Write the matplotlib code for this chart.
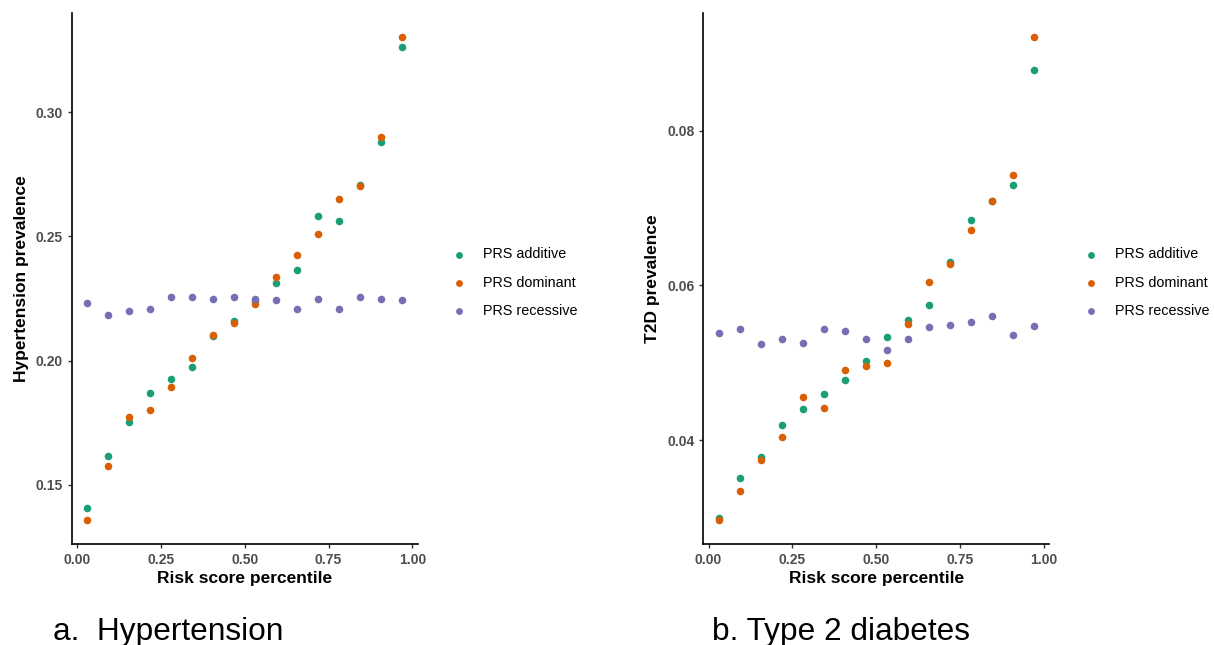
import numpy as np
import matplotlib
matplotlib.use("Agg")
import matplotlib.pyplot as plt

plt.rcParams['font.family'] = ['Liberation Sans', 'DejaVu Sans']

# risk score percentile bins (16 bins, midpoints)
percentile = [0.03125, 0.09375, 0.15625, 0.21875, 0.28125, 0.34375, 0.40625, 0.46875,
              0.53125, 0.59375, 0.65625, 0.71875, 0.78125, 0.84375, 0.90625, 0.96875]

series_names = ["PRS additive", "PRS dominant", "PRS recessive"]
series_colors = ["#1B9E77", "#D95F02", "#7570B3"]

# Hypertension prevalence
hyp_additive = [0.1407, 0.1616, 0.1752, 0.1868, 0.1927, 0.1976, 0.2099, 0.2161,
                0.2240, 0.2314, 0.2365, 0.2580, 0.2563, 0.2707, 0.2878, 0.3264]
hyp_dominant = [0.1359, 0.1576, 0.1774, 0.1803, 0.1894, 0.2010, 0.2101, 0.2151,
                0.2228, 0.2336, 0.2425, 0.2510, 0.2650, 0.2704, 0.2900, 0.3303]
hyp_recessive = [0.2233, 0.2184, 0.2200, 0.2207, 0.2254, 0.2254, 0.2246, 0.2257,
                 0.2246, 0.2243, 0.2208, 0.2247, 0.2208, 0.2256, 0.2246, 0.2243]

# Type 2 diabetes prevalence
t2d_additive = [0.0299, 0.0351, 0.0378, 0.0419, 0.0440, 0.0459, 0.0478, 0.0502,
                0.0533, 0.0555, 0.0575, 0.0630, 0.0684, 0.0709, 0.0729, 0.0878]
t2d_dominant = [0.0297, 0.0334, 0.0374, 0.0404, 0.0456, 0.0441, 0.0491, 0.0496,
                0.0500, 0.0550, 0.0604, 0.0627, 0.0672, 0.0709, 0.0742, 0.0921]
t2d_recessive = [0.0539, 0.0544, 0.0524, 0.0530, 0.0525, 0.0544, 0.0541, 0.0531,
                 0.0517, 0.0530, 0.0546, 0.0549, 0.0553, 0.0560, 0.0536, 0.0548]

hyp_ticks = [0.15, 0.20, 0.25, 0.30]
t2d_ticks = [0.04, 0.06, 0.08]

W, H = 1214, 645
fig = plt.figure(figsize=(W / 100, H / 100), dpi=100)


def expand(vals, frac=0.05):
    lo, hi = min(vals), max(vals)
    pad = (hi - lo) * frac
    return lo - pad, hi + pad


def draw_panel(left_px, series, yticks, ylabel, legend_x_px, caption, caption_x_px):
    ax = fig.add_axes([left_px / W, 1 - 544 / H, 346 / W, (544 - 12.7) / H])
    for vals, name, col in zip(series, series_names, series_colors):
        ax.scatter(percentile, vals, s=30, color=col, label=name,
                   linewidths=0, zorder=3)
    ax.set_xlim(expand(percentile))
    ax.set_ylim(expand([v for s in series for v in s]))
    ax.set_xticks([0, 0.25, 0.5, 0.75, 1.0])
    ax.set_xticklabels(["0.00", "0.25", "0.50", "0.75", "1.00"])
    ax.set_yticks(yticks)
    ax.set_yticklabels([f"{t:.2f}" for t in yticks])
    for side in ["top", "right"]:
        ax.spines[side].set_visible(False)
    for side in ["left", "bottom"]:
        ax.spines[side].set_linewidth(1.2)
        ax.spines[side].set_color("black")
    ax.tick_params(length=3, width=1, color="#333333", pad=3.5,
                   labelsize=10, labelcolor="#4D4D4D")
    for lab in ax.get_xticklabels() + ax.get_yticklabels():
        lab.set_fontweight("bold")
    ax.set_xlabel("Risk score percentile", fontsize=12.5, fontweight="bold", labelpad=3)
    ax.set_ylabel(ylabel, fontsize=12.5, fontweight="bold", va="center")
    ax.yaxis.set_label_coords(-0.1455, 0.5)

    ax.legend(loc="center left", bbox_to_anchor=(legend_x_px / W, 1 - 282.7 / H),
              bbox_transform=fig.transFigure, frameon=False, fontsize=10.4,
              handlelength=1.0, handletextpad=1.18, labelspacing=0.99,
              borderpad=0, borderaxespad=0, markerscale=0.9)

    fig.text(caption_x_px / W, 1 - 640 / H, caption, fontsize=22.8,
             ha="left", va="baseline")
    return ax


draw_panel(71.7, [hyp_additive, hyp_dominant, hyp_recessive], hyp_ticks,
           "Hypertension prevalence", 451.8, "a.  Hypertension", 53)
draw_panel(703.3, [t2d_additive, t2d_dominant, t2d_recessive], t2d_ticks,
           "T2D prevalence", 1083.5, "b. Type 2 diabetes", 712)

fig.savefig("out.png", dpi=100)
